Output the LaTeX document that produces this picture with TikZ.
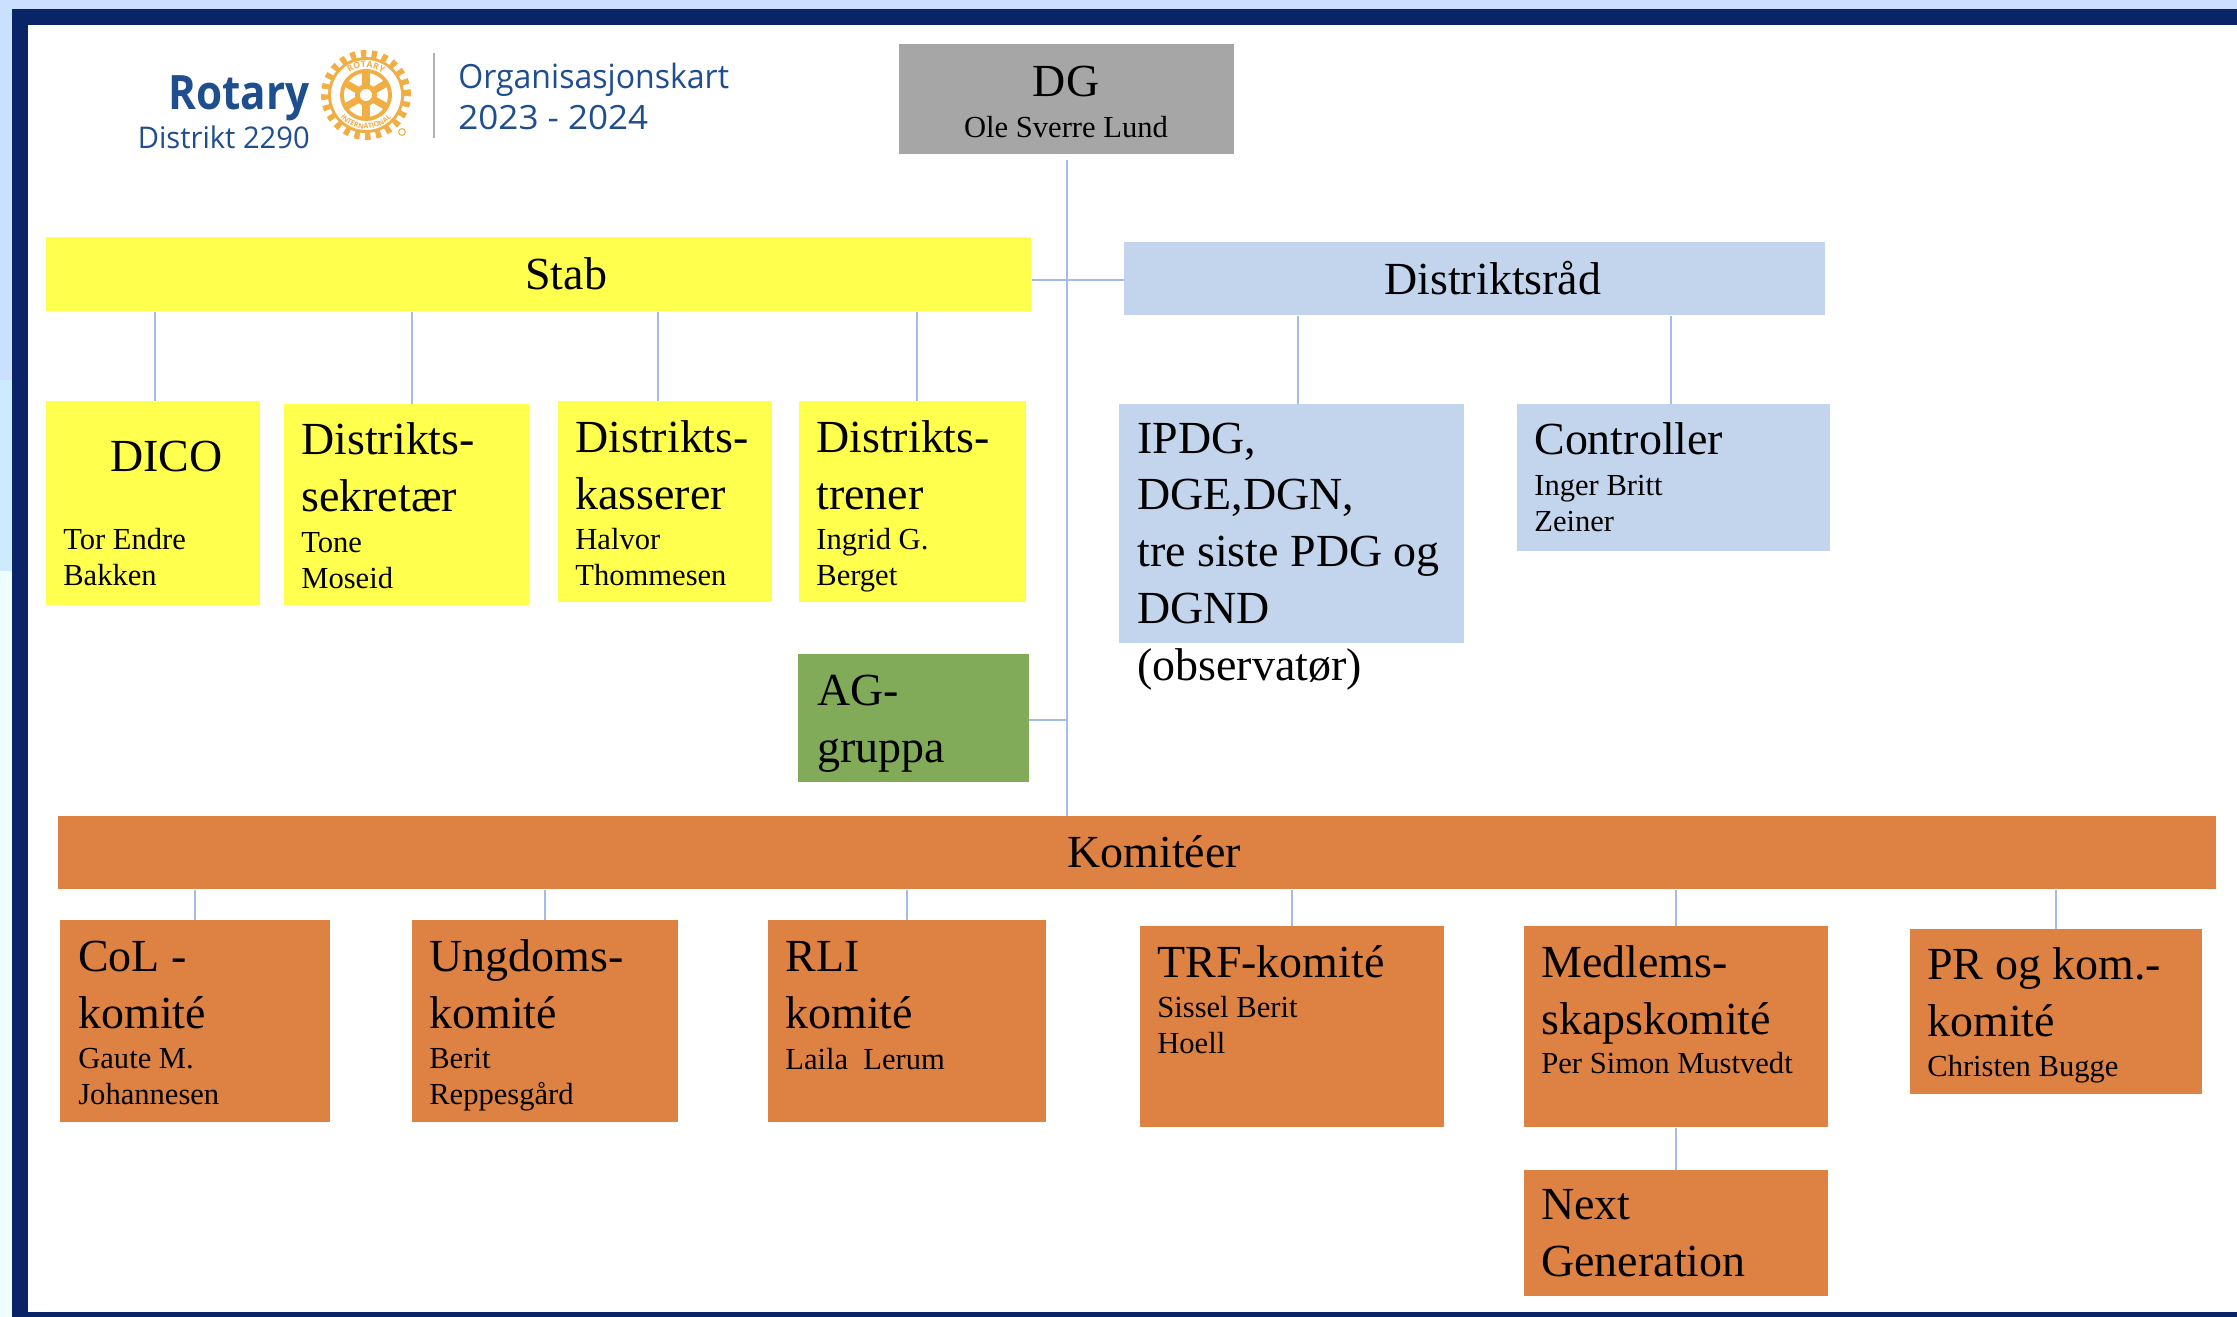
\documentclass[tikz,border=0pt]{standalone}
\usepackage{fontspec}
\setmainfont{Liberation Serif}
\newfontfamily\logofont{Open Sans}
\usetikzlibrary{calc,positioning,decorations.text}

\definecolor{framenavy}{HTML}{0A2468}
\definecolor{topblue}{HTML}{CBE0FF}
\definecolor{midblue}{HTML}{CDEBFE}
\definecolor{paleblue}{HTML}{EEFFFF}
\definecolor{dggray}{HTML}{A6A6A6}
\definecolor{stabyellow}{HTML}{FFFF4D}
\definecolor{raadblue}{HTML}{C2D5EC}
\definecolor{aggreen}{HTML}{82AB59}
\definecolor{komorange}{HTML}{DD8243}
\definecolor{linkblue}{HTML}{A3BDE8}
\definecolor{rotaryblue}{HTML}{1F4E8F}
\definecolor{rotarygold}{HTML}{F0AE45}

\newcommand{\px}{0.02cm}
\newcommand{\namefont}{\fontsize{17.4}{20.4}\selectfont}

\tikzset{
    boxsize/.style 2 args={minimum width=#1*\px, minimum height=#2*\px, anchor=north west, inner sep=0pt},
    dgbox/.style={fill=dggray},
    stabbox/.style={fill=stabyellow},
    raadbox/.style={fill=raadblue},
    agbox/.style={fill=aggreen},
    kombox/.style={fill=komorange},
    boxtext/.style={anchor=base west, inner sep=0pt, align=left, font=\fontsize{26.15}{32.3}\selectfont},
    logotext/.style={inner sep=0pt, text=rotaryblue, font=\logofont},
    linkline/.style={color=linkblue, line width=1.1pt}
}

\begin{document}
\begin{tikzpicture}[x=0.02cm,y=-0.02cm]
            \useasboundingbox (0,0) rectangle (2237,1317);
            % frame
            \fill[topblue] (0,0) rectangle (2237,9);
            \fill[topblue] (0,0) rectangle (12,380);
            \fill[midblue] (0,380) rectangle (12,571);
            \fill[paleblue] (0,571) rectangle (12,1317);
            \fill[framenavy] (12,9) rectangle (2237,1317);
            \fill[white] (28,25) rectangle (2237,1312);

            % logo
            \node [logotext, anchor=base east, xscale=0.89, font=\logofont\bfseries\fontsize{27}{30}\selectfont] (rotary) at (310,110) {Rotary};
            \node [logotext, anchor=base east, xscale=0.975, font=\logofont\fontsize{17}{20}\selectfont] (distrikt) at (310,149) {Distrikt 2290};
            \node [logotext, anchor=base west, xscale=0.96, font=\logofont\fontsize{19}{22}\selectfont] (orgkart) at (458,89) {Organisasjonskart};
            \node [logotext, anchor=base west, xscale=1.05, font=\logofont\fontsize{19}{22}\selectfont] (orgyear) at (458,130) {2023 - 2024};
            \draw[color=gray!60, line width=1pt] (434,53) -- (434,138);
            \begin{scope}[shift={(366,95)},x=0.02cm,y=0.02cm]
                \draw[color=rotarygold, line width=4.5pt, dash pattern=on 3pt off 3.08pt] (0,0) circle (41);
                \fill[rotarygold] (0,0) circle (38);
                \fill[white] (0,0) circle (35);
                \fill[rotarygold] (0,0) circle (26);
                \fill[white] (0,0) circle (22);
                \draw[color=rotarygold, line width=4pt] (90:24) -- (270:24);
                \draw[color=rotarygold, line width=4pt] (30:24) -- (210:24);
                \draw[color=rotarygold, line width=4pt] (150:24) -- (330:24);
                \fill[rotarygold] (0,0) circle (11);
                \fill[white] (0,0) circle (6);
                \path[decorate, decoration={text along path, text align=center, text={|\logofont\bfseries\fontsize{5}{5}\selectfont\color{rotarygold}|ROTARY}}] (145:27.5) arc (145:35:27.5);
                \path[decorate, decoration={text along path, text align=center, text={|\logofont\bfseries\fontsize{4}{4}\selectfont\color{rotarygold}|INTERNATIONAL}}] (205:34) arc (205:335:34);
                \draw[color=rotarygold, line width=0.6pt] (36,-37) circle (3.4);
            \end{scope}

            % boxes
            \node [dgbox, boxsize={335}{110}] (dg) at (899,44) {};
            \node [stabbox, boxsize={985}{74}] (stab) at (46,237) {};
            \node [raadbox, boxsize={701}{73}] (distriktsraad) at (1124,242) {};
            \node [stabbox, boxsize={214}{204}] (dico) at (46,401) {};
            \node [stabbox, boxsize={245}{201}] (sekretaer) at (284,404) {};
            \node [stabbox, boxsize={214}{201}] (kasserer) at (558,401) {};
            \node [stabbox, boxsize={227}{201}] (trener) at (799,401) {};
            \node [raadbox, boxsize={345}{239}] (ipdg) at (1119,404) {};
            \node [raadbox, boxsize={313}{147}] (controller) at (1517,404) {};
            \node [agbox, boxsize={231}{128}] (aggruppa) at (798,654) {};
            \node [kombox, boxsize={2158}{73}] (komiteer) at (58,816) {};
            \node [kombox, boxsize={270}{202}] (col) at (60,920) {};
            \node [kombox, boxsize={266}{202}] (ungdom) at (412,920) {};
            \node [kombox, boxsize={278}{202}] (rli) at (768,920) {};
            \node [kombox, boxsize={304}{201}] (trf) at (1140,926) {};
            \node [kombox, boxsize={304}{201}] (medlem) at (1524,926) {};
            \node [kombox, boxsize={304}{126}] (nextgen) at (1524,1170) {};
            \node [kombox, boxsize={292}{165}] (prkom) at (1910,929) {};

            % lines
            \coordinate (dgfoot) at (1067,160);
            \coordinate (raadside) at (1124,280);
            \coordinate (agside) at (1029,720);
            \coordinate (dicotop) at (155,401);
            \coordinate (sekretaertop) at (412,404);
            \coordinate (kasserertop) at (658,401);
            \coordinate (trenertop) at (917,401);
            \coordinate (ipdgtop) at (1298,404);
            \coordinate (controllertop) at (1671,404);
            \draw[linkline] (dgfoot) -- (dgfoot |- komiteer.north);
            \draw[linkline] (stab.east |- raadside) -- (raadside);
            \draw[linkline] (agside) -- (agside -| dgfoot);
            \draw[linkline] (dicotop) -- (dicotop |- stab.south);
            \draw[linkline] (sekretaertop) -- (sekretaertop |- stab.south);
            \draw[linkline] (kasserertop) -- (kasserertop |- stab.south);
            \draw[linkline] (trenertop) -- (trenertop |- stab.south);
            \draw[linkline] (ipdgtop) -- (ipdgtop |- distriktsraad.south);
            \draw[linkline] (controllertop) -- (controllertop |- distriktsraad.south);
            \draw[linkline] (col.north) -- (col.north |- komiteer.south);
            \draw[linkline] (ungdom.north) -- (ungdom.north |- komiteer.south);
            \draw[linkline] (rli.north) -- (rli.north |- komiteer.south);
            \draw[linkline] (trf.north) -- (trf.north |- komiteer.south);
            \draw[linkline] (medlem.north) -- (medlem.north |- komiteer.south);
            \draw[linkline] (prkom.north) -- (prkom.north |- komiteer.south);
            \draw[linkline] (nextgen.north) -- (medlem.south);

            % texts, y is the last line of each
            \node [boxtext, anchor=base] (dgtext) at (1066,97) {DG};
            \node [boxtext, anchor=base, font=\namefont] (dgname) at (1066,138) {Ole Sverre Lund};
            \node [boxtext] (stabtext) at (525,290) {Stab};
            \node [boxtext] (raadtext) at (1384,295) {Distriktsråd};
            \node [boxtext] (dicotext) at (110,472) {DICO};
            \node [boxtext, font=\namefont] (diconame) at (63,585) {Tor Endre\\Bakken};
            \node [boxtext] (sekretaertext) at (301,511) {Distrikts-\\sekretær};
            \node [boxtext, font=\namefont] (sekretaername) at (301,588) {Tone\\Moseid};
            \node [boxtext] (kassierertext) at (575,509) {Distrikts-\\kasserer};
            \node [boxtext, font=\namefont] (kasserername) at (575,585) {Halvor\\Thommesen};
            \node [boxtext] (trenertext) at (816,509) {Distrikts-\\trener};
            \node [boxtext, font=\namefont] (trenername) at (816,585) {Ingrid G.\\Berget};
            \node [boxtext] (ipdgtext) at (1137,680) {IPDG,\\DGE,DGN,\\tre siste PDG og\\DGND\\(observatør)};
            \node [boxtext] (controllertext) at (1534,455) {Controller};
            \node [boxtext, font=\namefont] (controllername) at (1534,531) {Inger Britt\\Zeiner};
            \node [boxtext] (agtext) at (817,762) {AG-\\gruppa};
            \node [boxtext] (komiteertext) at (1067,867) {Komitéer};
            \node [boxtext] (coltext) at (78,1028) {CoL -\\komité};
            \node [boxtext, font=\namefont] (colname) at (78,1104) {Gaute M.\\Johannesen};
            \node [boxtext] (ungdomtext) at (429,1028) {Ungdoms-\\komité};
            \node [boxtext, font=\namefont] (ungdomname) at (429,1104) {Berit\\Reppesgård};
            \node [boxtext] (rlitext) at (785,1028) {RLI\\komité};
            \node [boxtext, font=\namefont] (rliname) at (785,1069) {Laila\ \ Lerum};
            \node [boxtext] (trftext) at (1157,977) {TRF-komité};
            \node [boxtext, font=\namefont] (trfname) at (1157,1053) {Sissel Berit\\Hoell};
            \node [boxtext] (medlemtext) at (1541,1034) {Medlems-\\skapskomité};
            \node [boxtext, font=\namefont] (medlemname) at (1541,1073) {Per Simon Mustvedt};
            \node [boxtext] (nextgentext) at (1541,1276) {Next\\Generation};
            \node [boxtext] (prkomtext) at (1927,1036) {PR og kom.-\\komité};
            \node [boxtext, font=\namefont] (prkomname) at (1927,1076) {Christen Bugge};
\end{tikzpicture}
\end{document}
